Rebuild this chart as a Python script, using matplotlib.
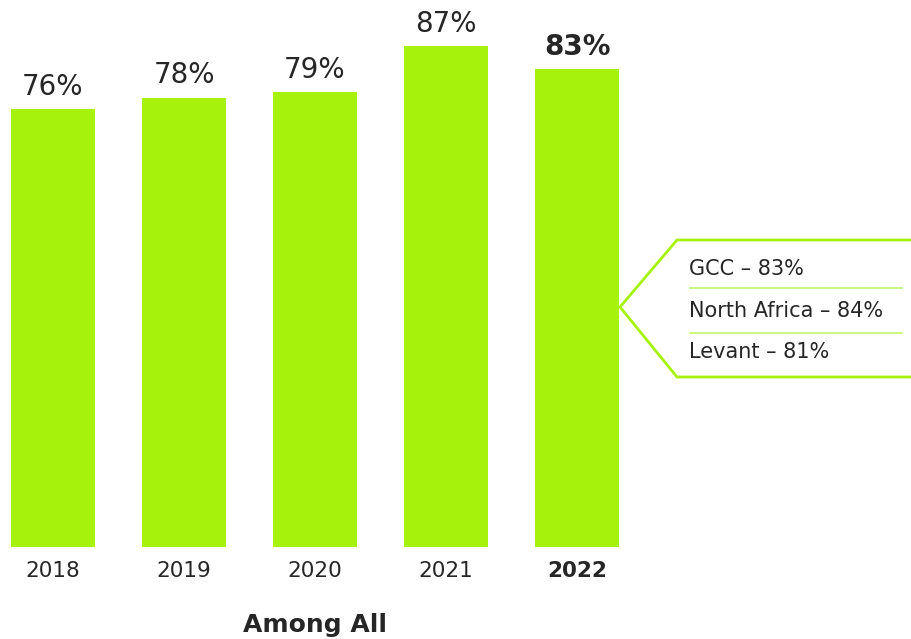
import matplotlib
matplotlib.use('Agg')
import matplotlib.pyplot as plt

years = ['2018', '2019', '2020', '2021', '2022']
values = [76, 78, 79, 87, 83]
regions = ['GCC', 'North Africa', 'Levant']
region_values = [83, 84, 81]

GREEN = '#a7f20c'
TEXT = '#262626'

W, H = 911, 639
fig = plt.figure(figsize=(W / 100, H / 100), dpi=100)

# main bar axes: bars spaced 131 px, 84 px wide, baseline at y=547 px
step = 131.0
x0 = 53.0
ax = fig.add_axes([0, (H - 547) / H, 1, 547 / H])
ax.set_xlim(-x0 / step, (W - x0) / step)
ax.set_ylim(0, 547 / 5.76)
ax.axis('off')

xs = range(len(years))
ax.bar(xs, values, width=84 / step, color=GREEN)
for i, (yr, v) in enumerate(zip(years, values)):
    last = i == len(years) - 1
    ax.annotate(f'{v}%', (i, v), xytext=(0, 6), textcoords='offset points',
                ha='center', va='bottom', fontsize=20, color=TEXT,
                fontweight='bold' if last else 'normal')
    ax.annotate(yr, (i, 0), xytext=(0, -17), textcoords='offset points',
                ha='center', va='center', fontsize=15.5, color=TEXT,
                fontweight='bold' if last else 'normal')

ax.annotate('Among All', (2, 0), xytext=(0, -56), textcoords='offset points',
            ha='center', va='center', fontsize=18, color=TEXT,
            fontweight='bold')

# callout in pixel coordinates
ov = fig.add_axes([0, 0, 1, 1])
ov.set_xlim(0, W)
ov.set_ylim(H, 0)
ov.axis('off')
ov.plot([W, 677, 620, 677, W], [240, 240, 307, 377, 377], color=GREEN,
        lw=2.0, solid_joinstyle='miter')
for yy in (288, 333):
    ov.plot([690, 902], [yy, yy], color='#c5f56a', lw=1.2)
for name, v, yy in zip(regions, region_values, (269, 311, 352)):
    ov.text(689, yy, f'{name} – {v}%', ha='left', va='center',
            fontsize=15, color=TEXT)

fig.savefig('out.png', dpi=100)
